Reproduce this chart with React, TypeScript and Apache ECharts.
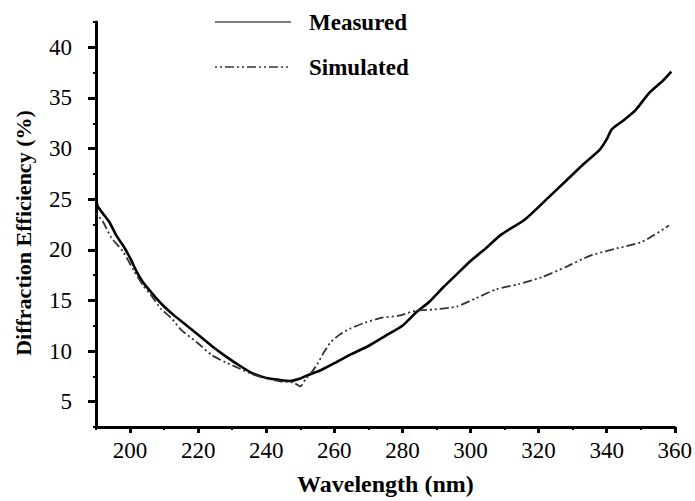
import React, { useEffect, useRef } from "react";
import * as echarts from "echarts";

const measuredX = [190, 190.5, 192, 194, 196, 198, 200, 202, 204, 206, 208, 210, 213, 216, 220, 224, 228, 232, 236, 240, 244, 247, 250, 252, 256, 260, 265, 270, 275, 280, 284, 288, 292, 296, 300, 304, 309, 316, 323, 328, 333, 338, 340, 341.5, 345, 348.5, 352.5, 356.5, 359];
const measuredY = [25.2, 24.3, 23.6, 22.7, 21.4, 20.4, 19.2, 17.8, 16.7, 15.9, 15.1, 14.4, 13.5, 12.7, 11.6, 10.5, 9.5, 8.6, 7.8, 7.35, 7.15, 7.05, 7.3, 7.6, 8.1, 8.8, 9.7, 10.5, 11.5, 12.5, 13.8, 14.9, 16.3, 17.6, 18.9, 20.0, 21.5, 23.0, 25.2, 26.8, 28.4, 29.9, 30.9, 31.9, 32.8, 33.8, 35.5, 36.7, 37.6];

const simulatedX = [190, 192, 194.5, 198, 201, 204, 206, 209, 212, 215, 219.5, 224, 228, 232, 236, 240, 244, 248, 250, 251.5, 253.3, 255, 257, 259, 261.5, 264.5, 269, 274, 279, 284, 289, 296, 301.5, 307.5, 314, 321, 328, 335, 342.5, 350.5, 358.3];
const simulatedY = [23.6, 22.8, 21.2, 19.8, 18.0, 16.4, 15.6, 14.2, 13.3, 12.1, 10.9, 9.6, 8.9, 8.3, 7.7, 7.3, 7.0, 6.9, 6.5, 7.2, 7.9, 8.7, 9.9, 10.9, 11.6, 12.2, 12.8, 13.3, 13.5, 14.0, 14.1, 14.4, 15.2, 16.1, 16.6, 17.3, 18.3, 19.4, 20.1, 20.8, 22.4];

const xMajorTicks = [200, 220, 240, 260, 280, 300, 320, 340, 360];
const yMajorTicks = [5, 10, 15, 20, 25, 30, 35, 40];
const seriesNames = ["Measured", "Simulated"];
const xTitle = "Wavelength (nm)";
const yTitle = "Diffraction Efficiency (%)";

const FONT = "Liberation Serif";
const SIM_DASH = [2, 3, 2, 3, 9, 3];

export default function App() {
  const ref = useRef<HTMLDivElement>(null);
  useEffect(() => {
    if (!ref.current) return;
    const chart = echarts.init(ref.current, undefined, { renderer: "svg" });
    const axisLineStyle = { color: "#000", width: 3 };
    const legendRows = [
      { y: 22, stroke: "#000", lineWidth: 1.2, dash: null as any },
      { y: 67, stroke: "#333", lineWidth: 1.6, dash: SIM_DASH },
    ];
    chart.setOption({
      animation: false,
      backgroundColor: "#fff",
      grid: { left: 96, right: 16, top: 22, bottom: 70 },
      graphic: [
        ...legendRows.flatMap((r, i) => [
          {
            type: "line",
            shape: { x1: 215, y1: r.y, x2: 291, y2: r.y },
            style: { stroke: r.stroke, lineWidth: r.lineWidth, lineDash: r.dash || undefined },
          },
          {
            type: "text",
            x: 309,
            y: r.y,
            style: {
              text: seriesNames[i],
              fontFamily: FONT,
              fontSize: 23,
              fontWeight: "bold",
              fill: "#000",
              verticalAlign: "middle",
            },
          },
        ]),
        {
          type: "text",
          x: 23,
          y: 233,
          rotation: Math.PI / 2,
          style: {
            text: yTitle,
            fontFamily: FONT,
            fontSize: 22,
            fontWeight: "bold",
            fill: "#000",
            align: "center",
            verticalAlign: "middle",
          },
        },
      ],
      xAxis: [
        {
          type: "value",
          min: 190,
          max: 360,
          position: "bottom",
          axisLine: { show: true, lineStyle: axisLineStyle },
          axisTick: { show: true, customValues: xMajorTicks, length: 6, lineStyle: { color: "#000", width: 3 } },
          axisLabel: { customValues: xMajorTicks, margin: 12, fontFamily: FONT, fontSize: 23, color: "#000" },
          splitLine: { show: false },
          name: xTitle,
          nameLocation: "middle",
          nameGap: 45,
          nameTextStyle: { fontFamily: FONT, fontSize: 24, fontWeight: "bold", color: "#000" },
        },
        {
          type: "value",
          min: 190,
          max: 360,
          interval: 10,
          position: "bottom",
          axisLine: { show: false },
          axisTick: { show: true, length: 3, lineStyle: { color: "#000", width: 2 } },
          axisLabel: { show: false },
          splitLine: { show: false },
        },
      ],
      yAxis: [
        {
          type: "value",
          min: 2.5,
          max: 42.5,
          position: "left",
          axisLine: { show: true, lineStyle: axisLineStyle },
          axisTick: { show: true, customValues: yMajorTicks, length: 8, lineStyle: { color: "#000", width: 3 } },
          axisLabel: { customValues: yMajorTicks, margin: 24, fontFamily: FONT, fontSize: 23, color: "#000" },
          splitLine: { show: false },
        },
        {
          type: "value",
          min: 2.5,
          max: 42.5,
          interval: 2.5,
          position: "left",
          axisLine: { show: false },
          axisTick: { show: true, length: 3, lineStyle: { color: "#000", width: 2 } },
          axisLabel: { show: false },
          splitLine: { show: false },
        },
      ],
      series: [
        {
          name: seriesNames[0],
          type: "line",
          xAxisIndex: 0,
          yAxisIndex: 0,
          showSymbol: false,
          symbol: "none",
          smooth: 0.2,
          data: measuredX.map((x, i) => [x, measuredY[i]]),
          lineStyle: { color: "#000", width: 2.6 },
          itemStyle: { color: "#000" },
        },
        {
          name: seriesNames[1],
          type: "line",
          xAxisIndex: 0,
          yAxisIndex: 0,
          showSymbol: false,
          symbol: "none",
          smooth: 0.2,
          data: simulatedX.map((x, i) => [x, simulatedY[i]]),
          lineStyle: { color: "#333", width: 1.8, type: SIM_DASH },
          itemStyle: { color: "#333" },
        },
      ],
    });
    return () => chart.dispose();
  }, []);
  return <div ref={ref} style={{ width: 695, height: 501, position: "absolute", left: 0, top: 0 }} />;
}
